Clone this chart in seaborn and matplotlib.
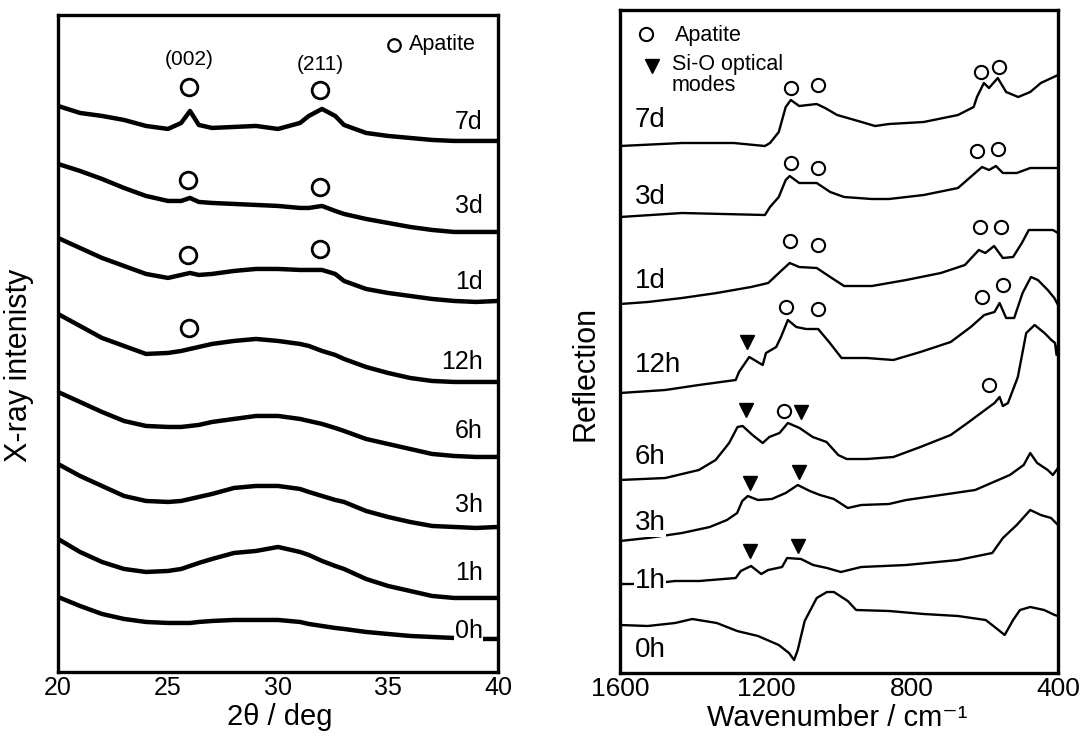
import matplotlib
matplotlib.use("Agg")
import matplotlib.pyplot as plt
import seaborn as sns

# ---- XRD panel (left) ----
two_theta = [20, 21, 22, 23, 24, 25, 25.6, 26, 26.4, 27, 28, 29, 30, 31, 31.4, 32, 32.6, 33, 34, 35, 36, 37, 38, 39, 40]
xrd_7d = [566, 559, 556, 552, 546, 543, 549, 561, 547, 544, 545, 546, 543, 549, 556, 563, 556, 547, 539, 536, 534, 532, 531, 531, 531]
xrd_3d = [508, 501, 493, 484, 476, 471, 471, 474, 470, 469, 468, 467, 466, 464, 464, 466, 461, 458, 453, 449, 445, 442, 440, 440, 440]
xrd_1d = [434, 424, 414, 406, 398, 394, 397, 399, 397, 398, 401, 403, 403, 402, 402, 402, 398, 391, 383, 379, 376, 373, 371, 370, 371]
xrd_12h = [358, 346, 334, 326, 318, 319, 321, 323, 325, 328, 331, 333, 331, 328, 326, 321, 317, 313, 305, 299, 294, 291, 290, 290, 290]
xrd_6h = [280, 270, 260, 251, 246, 245, 245, 246, 247, 250, 253, 256, 256, 253, 251, 248, 244, 241, 233, 228, 223, 218, 216, 215, 215]
xrd_3h = [208, 196, 186, 176, 171, 170, 171, 173, 175, 178, 184, 186, 186, 183, 180, 176, 172, 170, 161, 155, 150, 146, 145, 144, 145]
xrd_1h = [133, 120, 110, 103, 100, 101, 103, 106, 109, 113, 119, 121, 125, 120, 117, 111, 106, 103, 93, 86, 81, 76, 74, 74, 74]
xrd_0h = [75, 66, 58, 53, 50, 49, 49, 49, 50, 51, 52, 52, 52, 50, 48, 46, 44, 43, 40, 38, 36, 35, 34, 33, 33]

xrd_labels = ["7d", "3d", "1d", "12h", "6h", "3h", "1h", "0h"]
xrd_label_y = [550, 466, 390, 310, 241, 167, 99, 41]

xrd_circle_x = [25.97, 31.92, 25.92, 31.92, 25.92, 31.92, 25.97]
xrd_circle_y = [585, 582, 492, 485, 417, 423, 344]

# ---- IR reflection panel (right) ----
wn_7d = [1600, 1430, 1288, 1203, 1189, 1165, 1146, 1132, 1109, 1061, 1038, 1005, 957, 901, 863, 768, 674, 631, 622, 603, 589, 565, 542, 509, 476, 447, 400]
ir_7d = [527, 530, 530, 527, 530, 541, 566, 573, 567, 569, 565, 558, 553, 547, 549, 551, 558, 566, 576, 590, 585, 595, 581, 576, 581, 590, 598]
wn_3d = [1600, 1430, 1203, 1189, 1165, 1146, 1135, 1109, 1061, 1024, 986, 910, 863, 768, 674, 627, 608, 589, 570, 551, 513, 476, 438, 400]
ir_3d = [456, 460, 458, 466, 476, 493, 497, 490, 490, 481, 476, 474, 474, 478, 485, 500, 506, 503, 507, 500, 500, 505, 505, 505]
wn_1d = [1600, 1524, 1430, 1335, 1241, 1194, 1156, 1135, 1109, 1061, 1024, 986, 910, 816, 721, 655, 617, 599, 575, 551, 523, 499, 480, 447, 414, 400]
ir_1d = [369, 371, 375, 380, 386, 390, 403, 410, 406, 405, 396, 387, 387, 393, 400, 408, 423, 420, 427, 415, 416, 430, 443, 443, 443, 440]
wn_12h = [1600, 1476, 1384, 1283, 1274, 1246, 1232, 1209, 1200, 1172, 1159, 1140, 1117, 1090, 1057, 1025, 993, 924, 851, 777, 694, 639, 602, 574, 560, 542, 520, 497, 474, 455, 428, 410, 400]
ir_12h = [280, 283, 288, 293, 301, 316, 313, 308, 320, 326, 336, 353, 346, 344, 344, 330, 315, 315, 313, 321, 331, 346, 358, 361, 370, 355, 355, 380, 396, 393, 383, 375, 368]
wn_6h = [1600, 1476, 1384, 1338, 1301, 1278, 1264, 1237, 1209, 1191, 1163, 1140, 1108, 1072, 1034, 1002, 979, 924, 851, 777, 694, 648, 611, 574, 560, 551, 537, 510, 487, 464, 437, 418, 408, 404, 400]
ir_6h = [193, 195, 203, 213, 230, 246, 247, 238, 230, 236, 240, 250, 245, 236, 231, 218, 214, 214, 216, 226, 238, 250, 260, 270, 276, 267, 270, 296, 340, 348, 340, 333, 330, 318, 328]
wn_3h = [1600, 1524, 1430, 1354, 1307, 1279, 1265, 1250, 1222, 1184, 1146, 1113, 1080, 1052, 1014, 976, 939, 863, 816, 721, 627, 532, 494, 476, 457, 428, 414, 400]
ir_3h = [132, 135, 140, 146, 153, 160, 172, 177, 173, 174, 180, 188, 182, 178, 174, 165, 168, 169, 173, 178, 183, 198, 208, 220, 210, 203, 198, 205]
wn_1h = [1600, 1524, 1449, 1383, 1283, 1269, 1241, 1213, 1194, 1156, 1142, 1104, 1071, 1033, 995, 939, 816, 674, 580, 551, 513, 476, 447, 419, 400]
ir_1h = [89, 89, 92, 92, 95, 102, 107, 99, 103, 106, 115, 114, 108, 105, 101, 106, 108, 113, 120, 135, 148, 163, 158, 155, 148]
wn_0h = [1600, 1524, 1449, 1402, 1335, 1279, 1222, 1165, 1137, 1123, 1113, 1094, 1061, 1033, 1014, 976, 953, 863, 768, 674, 598, 570, 546, 523, 504, 476, 438, 409, 400]
ir_0h = [48, 47, 50, 54, 50, 42, 37, 28, 20, 13, 23, 52, 75, 81, 81, 72, 63, 62, 59, 57, 53, 45, 38, 53, 63, 66, 63, 58, 57]

ir_labels = ["7d", "3d", "1d", "12h", "6h", "3h", "1h", "0h"]
ir_label_y = [553, 476, 392, 308, 216, 150, 92, 23]

ir_circle_x = [1132, 1057, 610, 561, 1132, 1057, 622, 565, 1135, 1057, 615, 556, 1145, 1057, 607, 552, 1152, 588]
ir_circle_y = [585, 588, 601, 606, 510, 505, 522, 524, 432, 428, 446, 446, 366, 364, 376, 388, 262, 288]
ir_tri_x = [1251, 1255, 1105, 1243, 1109, 1244, 1113]
ir_tri_y = [331, 263, 261, 190, 201, 122, 127]

sns.set_style("white")
plt.rcParams["font.family"] = ["Liberation Sans", "DejaVu Sans"]
plt.rcParams["axes.linewidth"] = 2.4
plt.rcParams["axes.edgecolor"] = "black"
plt.rcParams["text.color"] = "black"
plt.rcParams["axes.labelcolor"] = "black"
plt.rcParams["xtick.color"] = "black"

fig = plt.figure(figsize=(10.86, 7.36), dpi=100)
ax1 = fig.add_axes([0.0534, 0.0870, 0.4052, 0.8927])
ax2 = fig.add_axes([0.5709, 0.0856, 0.4033, 0.9008])

# Left: XRD patterns
xrd_series = [xrd_7d, xrd_3d, xrd_1d, xrd_12h, xrd_6h, xrd_3h, xrd_1h, xrd_0h]
for ys in xrd_series:
    sns.lineplot(x=two_theta, y=ys, ax=ax1, color="black", linewidth=3.2)
for lab, ly in zip(xrd_labels, xrd_label_y):
    ax1.text(39.3, ly, lab, ha="right", va="center", fontsize=18,
             bbox=dict(facecolor="white", edgecolor="none", pad=0.5))
ax1.plot(xrd_circle_x, xrd_circle_y, "o", mfc="none", mec="black", ms=12, mew=2)
ax1.text(25.97, 612, "(002)", ha="center", va="center", fontsize=15)
ax1.text(31.92, 607, "(211)", ha="center", va="center", fontsize=15)
ax1.plot([35.25], [627], "o", mfc="none", mec="black", ms=9, mew=1.6)
ax1.text(35.95, 627, "Apatite", ha="left", va="center", fontsize=15.5)

ax1.set_xlim(20, 40)
ax1.set_ylim(0, 657)
ax1.set_xticks([20, 25, 30, 35, 40])
ax1.set_yticks([])
ax1.tick_params(axis="x", direction="in", length=10, width=2.2, labelsize=18, pad=3)
ax1.set_xlabel("2θ / deg", fontsize=21)
ax1.set_ylabel("X-ray intenisty", fontsize=22)
ax1.xaxis.set_label_coords(0.505, -0.047)
ax1.yaxis.set_label_coords(-0.055, 0.4665)

# Right: IR reflection spectra
ir_x = [wn_7d, wn_3d, wn_1d, wn_12h, wn_6h, wn_3h, wn_1h, wn_0h]
ir_y = [ir_7d, ir_3d, ir_1d, ir_12h, ir_6h, ir_3h, ir_1h, ir_0h]
for xs, ys in zip(ir_x, ir_y):
    sns.lineplot(x=xs, y=ys, ax=ax2, color="black", linewidth=1.7)
for lab, ly in zip(ir_labels, ir_label_y):
    ax2.text(1560, ly, lab, ha="left", va="center", fontsize=20,
             bbox=dict(facecolor="white", edgecolor="none", pad=0.5))
ax2.plot(ir_circle_x, ir_circle_y, "o", mfc="none", mec="black", ms=9.5, mew=1.5)
ax2.plot(ir_tri_x, ir_tri_y, "v", color="black", ms=10)
ax2.plot([1529], [639], "o", mfc="none", mec="black", ms=9.5, mew=1.5)
ax2.text(1449, 638, "Apatite", ha="left", va="center", fontsize=15.5)
ax2.plot([1512], [607], "v", color="black", ms=10)
ax2.text(1458, 598, "Si-O optical\nmodes", ha="left", va="center", fontsize=15.5, linespacing=0.95)

ax2.set_xlim(1600, 400)
ax2.set_ylim(0, 663)
ax2.set_xticks([1600, 1200, 800, 400])
ax2.set_xticks([1400, 1000, 600], minor=True)
ax2.set_yticks([])
ax2.tick_params(axis="x", which="major", direction="in", length=11, width=2.2, labelsize=19, pad=3)
ax2.tick_params(axis="x", which="minor", direction="in", length=5, width=2.2)
ax2.set_xlabel("Wavenumber / cm⁻¹", fontsize=21)
ax2.set_ylabel("Reflection", fontsize=22)
ax2.xaxis.set_label_coords(0.496, -0.047)
ax2.yaxis.set_label_coords(-0.045, 0.4525)

fig.savefig("out.png", dpi=100)
